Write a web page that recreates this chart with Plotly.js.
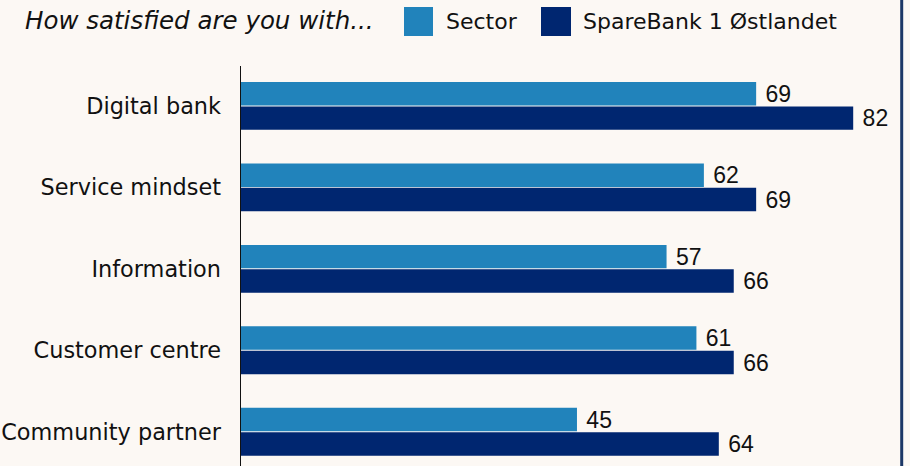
<!DOCTYPE html>
<html>
<head>
<meta charset="utf-8">
<script src="https://cdn.plot.ly/plotly-3.0.1.min.js"></script>
<style>
  html, body { margin: 0; padding: 0; background: #fcf8f4; }
  #chart { width: 910px; height: 466px; }
</style>
</head>
<body>
<div id="chart"></div>
<script>
// Survey categories, top to bottom
const categories = ['Digital bank', 'Service mindset', 'Information', 'Customer centre', 'Community partner'];
// Satisfaction scores
const sectorValues = [69, 62, 57, 61, 45];
const bankValues = [82, 69, 66, 66, 64];
const seriesNames = ['Sector', 'SpareBank 1 Østlandet'];
const seriesColors = ['#2183bb', '#002670'];
const chartTitle = 'How satisfied are you with...';

const W = 910, H = 466;
const plotLeft = 241, plotTop = 66, plotRight = 898, plotBottom = 466;
const xMax = 88;

// helpers converting pixel positions into paper coordinates
const pw = plotRight - plotLeft, ph = plotBottom - plotTop;
const px = p => (p - plotLeft) / pw;
const py = p => (plotBottom - p) / ph;

const labelFont = '"DejaVu Sans", "Open Sans", sans-serif';
const valueFont = '"Liberation Sans", Arial, sans-serif';

const traces = [sectorValues, bankValues].map((vals, i) => ({
  type: 'bar',
  orientation: 'h',
  name: seriesNames[i],
  y: categories,
  x: vals,
  marker: { color: seriesColors[i] },
  text: vals.map(v => ' ' + v),
  textposition: 'outside',
  constraintext: 'none',
  cliponaxis: false,
  textfont: { family: valueFont, size: 23, color: '#111' },
  hoverinfo: 'x+name'
}));

// custom legend: large square swatches with labels
const swatches = [
  { x0: 404, x1: 433, tx: 444 },
  { x0: 541, x1: 571, tx: 581 }
];
const shapes = swatches.map((s, i) => ({
  type: 'rect', xref: 'paper', yref: 'paper',
  x0: px(s.x0), x1: px(s.x1), y0: py(36), y1: py(7),
  fillcolor: seriesColors[i], line: { width: 0 }
}));
// frame line on the right edge
shapes.push({
  type: 'line', xref: 'paper', yref: 'paper',
  x0: px(901.7), x1: px(901.7), y0: py(H + 5), y1: py(-5),
  line: { color: '#1c3766', width: 3 }
});

const annotations = swatches.map((s, i) => ({
  xref: 'paper', yref: 'paper', x: px(s.tx), y: py(22),
  xanchor: 'left', yanchor: 'middle', showarrow: false,
  text: seriesNames[i],
  font: { family: labelFont, size: 22, color: '#111' }
}));
annotations.push({
  xref: 'paper', yref: 'paper', x: px(23), y: py(21),
  xanchor: 'left', yanchor: 'middle', showarrow: false,
  text: '<i>' + chartTitle + '</i>',
  font: { family: labelFont, size: 24.5, color: '#111' }
});

const layout = {
  width: W, height: H,
  paper_bgcolor: '#fcf8f4',
  plot_bgcolor: '#fcf8f4',
  margin: { l: plotLeft, r: W - plotRight, t: plotTop, b: H - plotBottom, pad: 0 },
  barmode: 'group',
  bargap: 0.40,
  bargroupgap: 0.04,
  showlegend: false,
  xaxis: {
    range: [0, xMax], visible: false, fixedrange: true
  },
  yaxis: {
    type: 'category',
    range: [4.42, -0.49],
    showline: true, linecolor: '#111', linewidth: 1.5,
    showgrid: false, zeroline: false,
    ticks: '', ticklabelstandoff: 14,
    tickfont: { family: labelFont, size: 22.4, color: '#111' },
    fixedrange: true
  },
  shapes: shapes,
  annotations: annotations
};

Plotly.newPlot('chart', traces, layout, { displayModeBar: false, staticPlot: true });
</script>
</body>
</html>
